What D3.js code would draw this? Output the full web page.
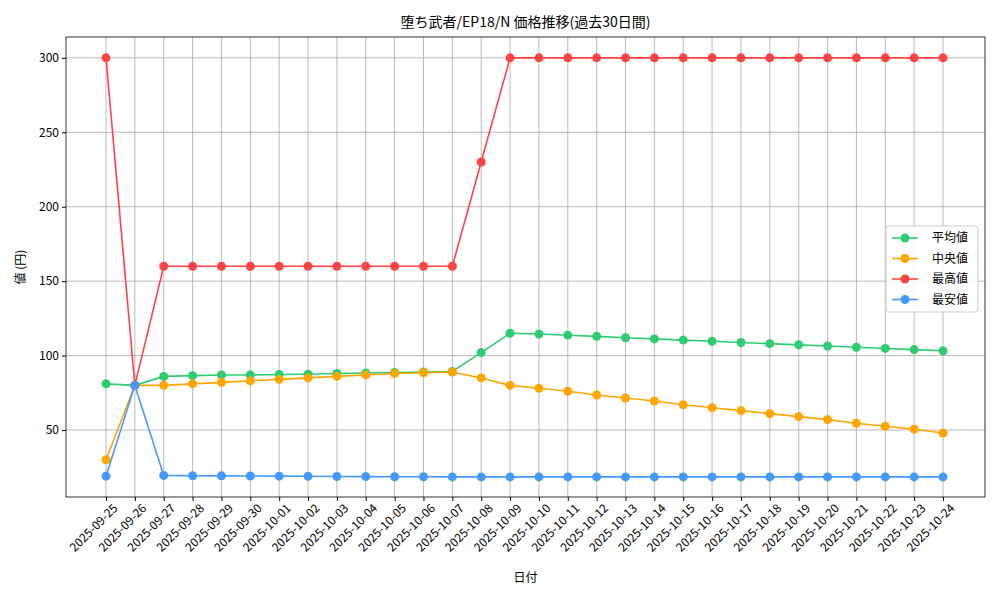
<!DOCTYPE html><html><head><meta charset="utf-8"><script src="https://cdn.jsdelivr.net/npm/d3@7"></script>
<style>body{margin:0;background:#fff}text{font-family:"Noto Sans CJK JP","DejaVu Sans",sans-serif}</style></head><body><svg id="c" width="1000" height="600"></svg>
<script>
const dates=["2025-09-25","2025-09-26","2025-09-27","2025-09-28","2025-09-29","2025-09-30","2025-10-01","2025-10-02","2025-10-03","2025-10-04","2025-10-05","2025-10-06","2025-10-07","2025-10-08","2025-10-09","2025-10-10","2025-10-11","2025-10-12","2025-10-13","2025-10-14","2025-10-15","2025-10-16","2025-10-17","2025-10-18","2025-10-19","2025-10-20","2025-10-21","2025-10-22","2025-10-23","2025-10-24"];
const avgVals=[81,80,86,86.5,87,87,87.3,87.5,88,88.3,88.6,89,89.3,102,115,114.5,113.7,112.9,112,111.2,110.4,109.6,108.8,108,107.2,106.4,105.6,104.8,104,103.2];
const medVals=[30,80,80,81,82,83,84,85,86,87,88,88.5,89,85,80,78,76,73.5,71.5,69.5,67,65,63,61,59,57,54.5,52.5,50.5,48];
const maxVals=[300,80,160,160,160,160,160,160,160,160,160,160,160,230,300,300,300,300,300,300,300,300,300,300,300,300,300,300,300,300];
const minVals=[19,80,19.5,19.3,19.2,19.1,19,18.9,18.8,18.7,18.6,18.6,18.5,18.5,18.5,18.5,18.5,18.5,18.5,18.5,18.5,18.5,18.5,18.5,18.5,18.5,18.5,18.5,18.5,18.5];
const yTicks=[50,100,150,200,250,300];
const series=[["平均値",avgVals,"#2ecc71"],["中央値",medVals,"#ffa500"],["最高値",maxVals,"#ff4444"],["最安値",minVals,"#4499ff"]];
const svg=d3.select("#c");
const L=66,R=985,T=37,B=497;
const x=d3.scalePoint().domain(dates).range([106,943]);
const y=d3.scaleLinear().domain([5,314]).range([B,T]);
const g=svg.append("g");
g.selectAll(".gx").data(dates).enter().append("line").attr("x1",d=>x(d)).attr("x2",d=>x(d)).attr("y1",T).attr("y2",B).attr("stroke","#aaaaaa").attr("stroke-width",0.8);
g.selectAll(".gy").data(yTicks).enter().append("line").attr("x1",L).attr("x2",R).attr("y1",d=>y(d)).attr("y2",d=>y(d)).attr("stroke","#aaaaaa").attr("stroke-width",0.8);
const xa=svg.append("g").attr("transform",`translate(0,${B})`).call(d3.axisBottom(x).tickSizeOuter(0).tickSize(4));
xa.select(".domain").remove();
xa.selectAll("text").attr("font-size",12).attr("fill","#000").attr("text-anchor","end").attr("transform","translate(4,4) rotate(-45)").attr("dy","0.35em").attr("dx","0");
const ya=svg.append("g").attr("transform",`translate(${L},0)`).call(d3.axisLeft(y).tickValues(yTicks).tickSizeOuter(0).tickSize(4));
ya.select(".domain").remove();
ya.selectAll("text").attr("font-size",12).attr("fill","#000");
svg.append("rect").attr("x",L).attr("y",T).attr("width",R-L).attr("height",B-T).attr("fill","none").attr("stroke","#000").attr("stroke-width",0.8);
series.forEach(([n,v,c])=>{
 const d=dates.map((dt,i)=>[dt,v[i]]);
 svg.append("path").datum(d).attr("fill","none").attr("stroke",c).attr("stroke-width",1.6).attr("d",d3.line().x(p=>x(p[0])).y(p=>y(p[1])));
 svg.append("g").selectAll("circle").data(d).enter().append("circle").attr("cx",p=>x(p[0])).attr("cy",p=>y(p[1])).attr("r",4.5).attr("fill",c);
});
svg.append("text").attr("x",(L+R)/2).attr("y",27).attr("text-anchor","middle").attr("font-size",14).text("堕ち武者/EP18/N 価格推移(過去30日間)");
svg.append("text").attr("x",(L+R)/2).attr("y",582).attr("text-anchor","middle").attr("font-size",12).text("日付");
svg.append("text").attr("transform","translate(25,267) rotate(-90)").attr("text-anchor","middle").attr("font-size",12).text("値 (円)");
const lg=svg.append("g").attr("transform","translate(886,226)");
lg.append("rect").attr("width",92).attr("height",86).attr("rx",3).attr("fill","#fff").attr("fill-opacity",0.85).attr("stroke","#ccc");
series.forEach(([n,v,c],i)=>{
 const yy=12+i*20.5;
 lg.append("line").attr("x1",6).attr("x2",32).attr("y1",yy).attr("y2",yy).attr("stroke",c).attr("stroke-width",1.6);
 lg.append("circle").attr("cx",19).attr("cy",yy).attr("r",4.5).attr("fill",c);
 lg.append("text").attr("x",46).attr("y",yy+4).attr("font-size",12).text(n);
});
</script></body></html>
